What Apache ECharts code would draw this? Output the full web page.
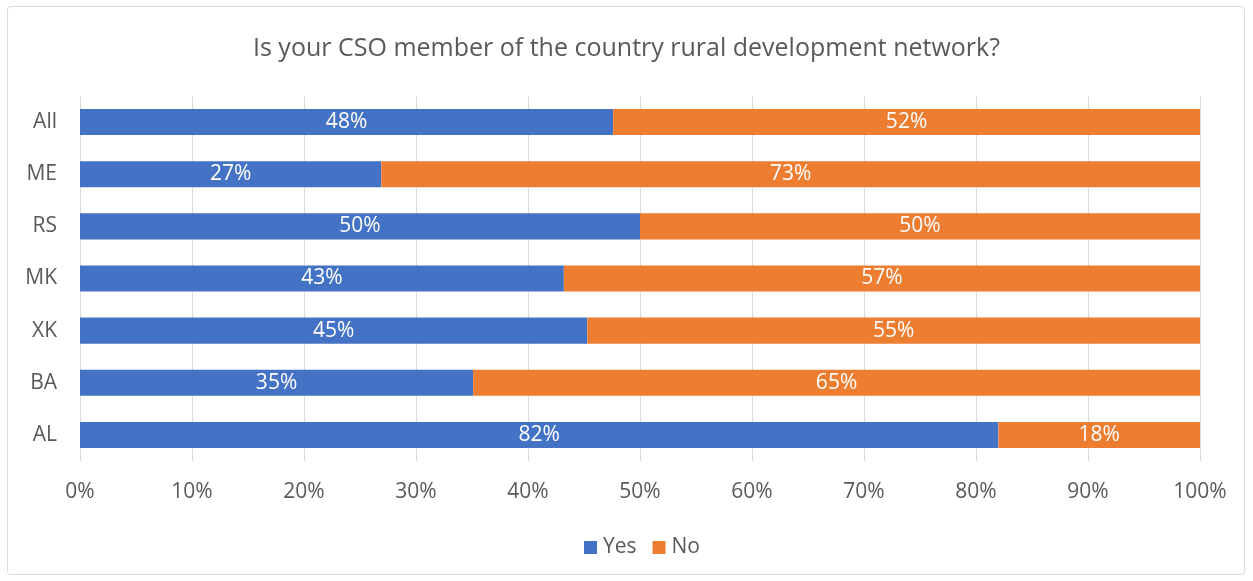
<!DOCTYPE html>
<html>
<head>
<meta charset="utf-8">
<script src="https://cdn.jsdelivr.net/npm/echarts@6/dist/echarts.min.js"></script>
<style>
  html, body { margin: 0; padding: 0; background: #fff; }
  #chart { width: 1253px; height: 581px; }
</style>
</head>
<body>
<div id="chart"></div>
<script>
// Categories, bottom to top as drawn on the category axis
const categories = ['AL', 'BA', 'XK', 'MK', 'RS', 'ME', 'All'];
// Share of CSOs answering "Yes" / "No" (percent)
const yesValues = [82.0, 35.1, 45.3, 43.2, 50.0, 26.9, 47.6];
const noValues  = [18.0, 64.9, 54.7, 56.8, 50.0, 73.1, 52.4];
const tickLabels = ['0%', '10%', '20%', '30%', '40%', '50%', '60%', '70%', '80%', '90%', '100%'];

const FONT = '"Open Sans", "Liberation Sans", sans-serif';
const TEXT = '#595959';

const chart = echarts.init(document.getElementById('chart'), null, { renderer: 'canvas' });

const labelOpt = {
  show: true,
  position: 'inside',
  color: '#ffffff',
  fontFamily: FONT,
  fontSize: 21,
  formatter: p => Math.round(p.value) + '%'
};

chart.setOption({
  animation: false,
  backgroundColor: '#ffffff',
  title: {
    text: 'Is your CSO member of the country rural development network?',
    left: 'center',
    top: 31,
    textStyle: { color: TEXT, fontFamily: FONT, fontSize: 25, fontWeight: 'normal' }
  },
  graphic: [{
    type: 'rect',
    shape: { x: 7.5, y: 6.5, width: 1237, height: 568, r: 3 },
    style: { fill: null, stroke: '#d9d9d9', lineWidth: 1 },
    silent: true,
    z: -1
  }],
  legend: {
    bottom: 18,
    left: 579,
    itemWidth: 13,
    itemHeight: 13,
    itemGap: 16,
    itemStyle: { borderWidth: 0 },
    icon: 'rect',
    textStyle: { color: TEXT, fontFamily: FONT, fontSize: 21, padding: [0, 0, 0, 1] },
    data: ['Yes', 'No']
  },
  grid: { left: 80, right: 53, top: 96, bottom: 120, containLabel: false },
  xAxis: {
    type: 'value',
    min: 0,
    max: 100,
    interval: 10,
    axisLine: { show: false },
    axisTick: { show: false },
    splitLine: { show: true, lineStyle: { color: '#d9d9d9', width: 1 } },
    axisLabel: {
      color: TEXT,
      fontFamily: FONT,
      fontSize: 21,
      margin: 21,
      formatter: v => tickLabels[Math.round(v / 10)]
    }
  },
  yAxis: {
    type: 'category',
    data: categories,
    axisLine: { show: false },
    axisTick: { show: false },
    axisLabel: { color: TEXT, fontFamily: FONT, fontSize: 21, margin: 23 }
  },
  series: [
    {
      name: 'Yes',
      type: 'bar',
      stack: 'total',
      barWidth: '50%',
      itemStyle: { color: '#4472c4' },
      label: labelOpt,
      data: yesValues
    },
    {
      name: 'No',
      type: 'bar',
      stack: 'total',
      barWidth: '50%',
      itemStyle: { color: '#ed7d31' },
      label: labelOpt,
      data: noValues
    }
  ]
});
</script>
</body>
</html>
